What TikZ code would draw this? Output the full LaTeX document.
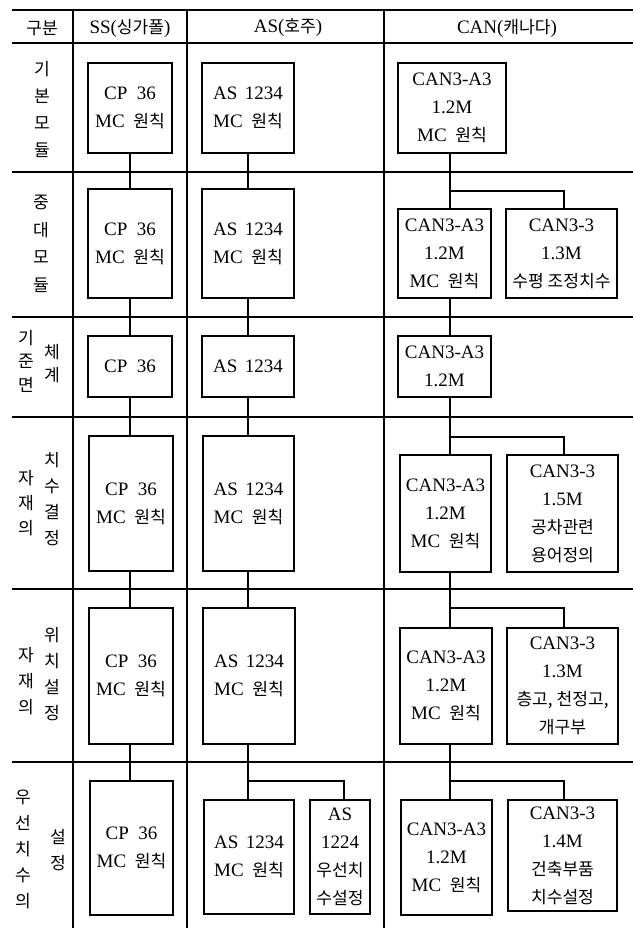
\documentclass[tikz,border=0pt]{standalone}
\usepackage{fontspec}
\setmainfont{Liberation Serif}
\newfontfamily\kr[Scale=0.9]{Noto Sans CJK KR}
\newcommand\bx[7][mainbox]{%
  \node[#1, minimum width={#4pt-#3pt}, minimum height={#6pt-#5pt}] (#2) at ({(#3+#4)/2},{(#5+#6)/2}) {#7};}
\newcommand\mcw{MC\hspace{0.45em}{\kr 원칙}}
\begin{document}
\begin{tikzpicture}[x=1pt,y=-1pt,
  every node/.style={font=\fontsize{19}{28}\selectfont, inner sep=0pt, outer sep=0pt, align=center},
  mainbox/.style={draw, line width=2.8pt},
  subbox/.style={draw, line width=1.3pt},
  conn/.style={line width=2.6pt},
  branch/.style={line width=1.2pt},
  gridline/.style={line width=1.1pt},
  lbl/.style={font=\kr\fontsize{19}{#1}\selectfont},
  lbl/.default=26]
\useasboundingbox (0,0) rectangle (633,928);
% table rules
\draw[line width=2.8pt] (12,10) -- (633,10);
\foreach \yy in {43,172,317,417,589,762} \draw[gridline] (12,\yy) -- (633,\yy);
\foreach \xx in {73,187,384} \draw[gridline] (\xx,10) -- (\xx,928);
% header
\node (h0) at (42,28) {{\kr 구분}};
\node (h1) at (130,28) {SS({\kr 싱가폴})};
\node (h2) at (288,28) {AS({\kr 호주})};
\node (h3) at (507,28) {CAN({\kr 캐나다})};
% left column labels
\node[lbl=27] (l1) at (42,110) {기\\본\\모\\듈};
\node[lbl=27.5] (l2) at (41,244) {중\\대\\모\\듈};
\node[lbl=23.5] (l3a) at (26,361) {기\\준\\면};
\node[lbl=23] (l3b) at (52,364) {체\\계};
\node[lbl=25] (l4a) at (26,503) {자\\재\\의};
\node[lbl=26] (l4b) at (52,499) {치\\수\\결\\정};
\node[lbl=26] (l5a) at (26,681) {자\\재\\의};
\node[lbl=26] (l5b) at (52,674) {위\\치\\설\\정};
\node[lbl=26] (l6a) at (23,849) {우\\선\\치\\수\\의};
\node[lbl=26] (l6b) at (58,850) {설\\정};
% row 1
\bx{s1}{88}{172}{63}{153}{CP\hspace{0.5em}36\\\mcw}
\bx{a1}{202}{294}{63}{153}{AS\hspace{0.4em}1234\\\mcw}
\bx{c1}{398}{506}{63}{153}{CAN3-A3\\1.2M\\\mcw}
% row 2
\bx{s2}{88}{172}{189}{298}{CP\hspace{0.5em}36\\\mcw}
\bx{a2}{202}{294}{189}{298}{AS\hspace{0.4em}1234\\\mcw}
\bx{c2}{398}{491}{209}{298}{CAN3-A3\\1.2M\\\mcw}
\bx[subbox]{d2}{506}{617}{209}{298}{CAN3-3\\1.3M\\{\kr 수평 조정치수}}
% row 3
\bx{s3}{88}{172}{336}{397}{CP\hspace{0.5em}36}
\bx{a3}{202}{294}{336}{397}{AS\hspace{0.4em}1234}
\bx{c3}{398}{491}{336}{397}{CAN3-A3\\1.2M}
% row 4
\bx{s4}{89}{173}{436}{571}{CP\hspace{0.5em}36\\\mcw}
\bx{a4}{203}{294}{436}{571}{AS\hspace{0.4em}1234\\\mcw}
\bx{c4}{400}{491}{455}{572}{CAN3-A3\\1.2M\\\mcw}
\bx[subbox]{d4}{507}{618}{455}{572}{CAN3-3\\1.5M\\{\kr 공차관련}\\{\kr 용어정의}}
% row 5
\bx{s5}{89}{173}{608}{744}{CP\hspace{0.5em}36\\\mcw}
\bx{a5}{203}{295}{608}{744}{AS\hspace{0.4em}1234\\\mcw}
\bx{c5}{400}{492}{628}{744}{CAN3-A3\\1.2M\\\mcw}
\bx[subbox]{d5}{507}{618}{628}{744}{CAN3-3\\1.3M\\{\kr 층고, 천정고,}\\{\kr 개구부}}
% row 6
\bx{s6}{90}{173}{781}{915}{CP\hspace{0.5em}36\\\mcw}
\bx{a6}{204}{294}{800}{914}{AS\hspace{0.4em}1234\\\mcw}
\bx[subbox]{e6}{310}{370}{800}{914}{AS\\1224\\{\kr 우선치}\\{\kr 수설정}}
\bx{c6}{401}{492}{800}{915}{CAN3-A3\\1.2M\\\mcw}
\bx[subbox]{d6}{508}{617}{800}{911}{CAN3-3\\1.4M\\{\kr 건축부품}\\{\kr 치수설정}}
% main connectors
\coordinate (xs) at (130,0);
\coordinate (xa) at (248,0);
\coordinate (xc) at (450,0);
\foreach \i/\j in {1/2,2/3,3/4,4/5,5/6}{
  \draw[conn] (s\i.south -| xs) -- (s\j.north -| xs);
  \draw[conn] (a\i.south -| xa) -- (a\j.north -| xa);
  \draw[conn] (c\i.south -| xc) -- (c\j.north -| xc);
}
% branches
\coordinate (bxc) at (564,0);
\coordinate (bxa) at (344,0);
\coordinate (j2) at (450,191);
\coordinate (j4) at (450,437);
\coordinate (j5) at (450,608);
\coordinate (j6) at (450,781);
\coordinate (ja6) at (248,781);
\draw[branch] (j2) -| (d2.north -| bxc);
\draw[branch] (j4) -| (d4.north -| bxc);
\draw[branch] (j5) -| (d5.north -| bxc);
\draw[branch] (j6) -| (d6.north -| bxc);
\draw[branch] (ja6) -| (e6.north -| bxa);
\end{tikzpicture}
\end{document}
